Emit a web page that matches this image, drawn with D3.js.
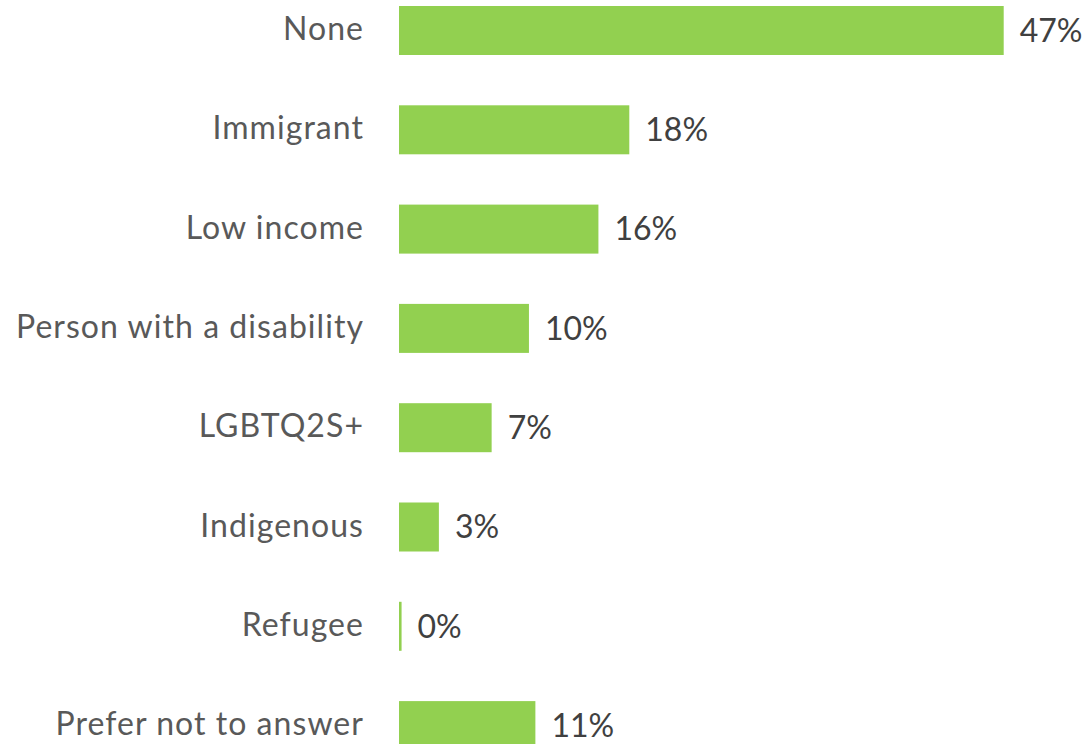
<!DOCTYPE html>
<html><head><meta charset="utf-8">
<script src="https://cdn.jsdelivr.net/npm/d3@7"></script>
<style>html,body{margin:0;padding:0;background:#fff;}svg{display:block;}</style>
</head><body>
<script>
const categories = ["None","Immigrant","Low income","Person with a disability","LGBTQ2S+","Indigenous","Refugee","Prefer not to answer"];
const values = [47, 17.9, 15.5, 10.1, 7.2, 3.1, 0.2, 10.6];
const valueLabels = ["47%","18%","16%","10%","7%","3%","0%","11%"];

const W = 1089, H = 744;
const svg = d3.select("body").append("svg").attr("width", W).attr("height", H);

const x = d3.scaleLinear().domain([0, 47]).range([399, 1003.7]);
const step = 99.3, bw = 49;
const pin = 1 - bw/step;
const y = d3.scaleBand().domain(categories)
  .range([6 - step*pin/2, 6 - step*pin/2 + step*categories.length])
  .paddingInner(pin).paddingOuter(pin/2);

svg.selectAll("rect.bar").data(categories).join("rect")
  .attr("class","bar")
  .attr("x", x(0))
  .attr("y", d => y(d))
  .attr("width", (d,i) => x(values[i]) - x(0))
  .attr("height", y.bandwidth())
  .attr("fill", "#92D050");

const axis = d3.axisLeft(y).tickSize(0).tickPadding(35);
const ga = svg.append("g").attr("transform", `translate(${x(0)},0)`).call(axis);
ga.select(".domain").remove();
ga.selectAll("text")
  .attr("font-family","Lato, 'Open Sans', sans-serif")
  .attr("font-size", 32)
  .attr("letter-spacing", "1.05px")
  .attr("fill","#595959")
  .attr("dy","0.3em");

svg.selectAll("text.val").data(categories).join("text")
  .attr("class","val")
  .attr("x", (d,i) => x(values[i]) + 16)
  .attr("y", d => y(d) + y.bandwidth()/2)
  .attr("dy","0.35em")
  .attr("font-family","Lato, 'Open Sans', sans-serif")
  .attr("font-size", 32)
  .attr("fill","#404040")
  .text((d,i) => valueLabels[i]);
</script>
</body></html>
